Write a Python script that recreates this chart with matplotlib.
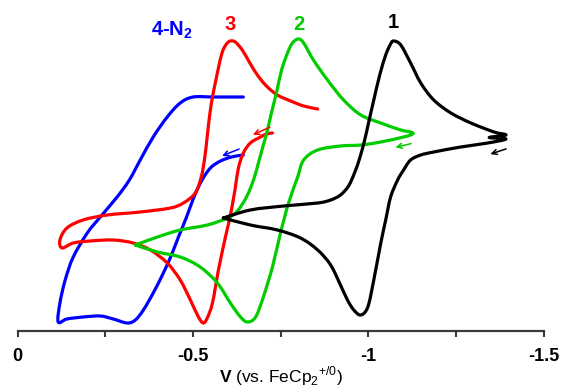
import matplotlib
matplotlib.use("Agg")
import matplotlib.pyplot as plt
from matplotlib.path import Path
from matplotlib.patches import PathPatch

plt.rcParams["font.family"] = ["Liberation Sans", "DejaVu Sans"]
plt.rcParams["mathtext.fontset"] = "custom"
plt.rcParams["mathtext.rm"] = "Liberation Sans"
plt.rcParams["mathtext.bf"] = "Liberation Sans:bold"

# potentials in V (vs. FeCp2+/0), currents in arbitrary units (no y scale shown)
e_1 = [-0.587, -0.664, -0.759, -0.856, -0.893, -0.921, -0.944, -0.961, -0.976, -0.990,
       -1.001, -1.016, -1.033, -1.050, -1.064, -1.073, -1.093, -1.121, -1.150, -1.187,
       -1.236, -1.293, -1.359, -1.393, -1.345, -1.393, -1.341, -1.264, -1.187, -1.150,
       -1.121, -1.101, -1.084, -1.064, -1.050, -1.036, -1.016, -0.999, -0.979, -0.959,
       -0.941, -0.921, -0.893, -0.856, -0.807, -0.741, -0.664, -0.587]
i_1 = [113, 121, 125, 128, 131, 136, 145, 158, 173, 191,
       208, 231, 256, 276, 287, 290, 286, 268, 248, 231,
       218, 208, 199, 196, 193.5, 192, 188, 184, 179, 176,
       171, 161, 151, 134, 111, 88, 51, 24, 16, 21,
       31, 46, 66, 81, 93, 101, 106, 113]

e_2 = [-0.336, -0.399, -0.464, -0.541, -0.599, -0.627, -0.653, -0.673, -0.687, -0.701,
       -0.713, -0.724, -0.739, -0.753, -0.770, -0.784, -0.801, -0.816, -0.844, -0.884,
       -0.930, -0.979, -1.036, -1.093, -1.121, -1.127, -1.101, -1.036, -0.979, -0.921,
       -0.856, -0.816, -0.799, -0.773, -0.750, -0.727, -0.701, -0.679, -0.656, -0.636,
       -0.607, -0.570, -0.521, -0.464, -0.399, -0.336]
i_2 = [86, 94, 101, 106, 113, 120, 134, 151, 168, 186,
       201, 218, 239, 261, 278, 288, 292, 288, 271, 251,
       231, 216, 208, 201, 199, 197, 194, 189, 186, 185,
       181, 171, 154, 128, 98, 64, 34, 14, 9, 14,
       28, 48, 64, 74, 79, 86]

e_3 = [-0.727, -0.710, -0.693, -0.664, -0.644, -0.630, -0.621, -0.610, -0.601, -0.593,
       -0.573, -0.556, -0.541, -0.530, -0.516, -0.493, -0.464, -0.427, -0.379, -0.330,
       -0.273, -0.207, -0.159, -0.127, -0.121, -0.141, -0.187, -0.256, -0.350, -0.436,
       -0.473, -0.507, -0.524, -0.533, -0.539, -0.544, -0.550, -0.556, -0.564, -0.573,
       -0.584, -0.596, -0.607, -0.621, -0.641, -0.661, -0.684, -0.710, -0.741, -0.779,
       -0.816, -0.856]
i_3 = [198, 197, 194, 188, 178, 163, 143, 121, 106, 94,
       61, 28, 13, 8, 14, 31, 51, 68, 81, 88,
       91, 90, 88, 83, 91, 103, 111, 116, 119, 123,
       128, 138, 154, 171, 188, 204, 221, 234, 248, 263,
       279, 287, 290, 289, 281, 269, 256, 245, 236, 230,
       225, 222]

e_4 = [-0.644, -0.610, -0.579, -0.553, -0.533, -0.516, -0.501, -0.481, -0.459, -0.439,
       -0.416, -0.387, -0.359, -0.336, -0.313, -0.273, -0.236, -0.187, -0.141, -0.116,
       -0.121, -0.136, -0.159, -0.199, -0.236, -0.284, -0.319, -0.350, -0.387, -0.427,
       -0.464, -0.501, -0.559, -0.644]
i_4 = [176, 174, 170, 164, 155, 144, 132, 113, 94, 76,
       58, 38, 21, 11, 8, 12, 15, 14, 12, 9,
       28, 51, 74, 98, 114, 134, 151, 171, 194, 214,
       228, 234, 234, 234]

labels = ["4-N$_\\mathbf{2}$", "3", "2", "1"]
colors = ["#0000ff", "#ff0000", "#00cc00", "#000000"]
label_pos = [(-0.441, 301), (-0.607, 306), (-0.801, 307), (-1.073, 308)]
# scan-direction arrows: (start E, start i, end E, end i)
arrows = [(-0.639, 183, -0.576, 174),
          (-0.727, 205, -0.664, 195),
          (-1.130, 188, -1.070, 183),
          (-1.401, 183, -1.341, 176)]


def smooth_path(xs, ys):
    # smoothed line through every point (Catmull-Rom as cubic Beziers)
    pts = list(zip(xs, ys))
    n = len(pts)
    verts = [pts[0]]
    codes = [Path.MOVETO]
    for k in range(n - 1):
        p0 = pts[max(k - 1, 0)]
        p1 = pts[k]
        p2 = pts[k + 1]
        p3 = pts[min(k + 2, n - 1)]
        c1 = (p1[0] + (p2[0] - p0[0]) / 6, p1[1] + (p2[1] - p0[1]) / 6)
        c2 = (p2[0] - (p3[0] - p1[0]) / 6, p2[1] - (p3[1] - p1[1]) / 6)
        verts += [c1, c2, p2]
        codes += [Path.CURVE4] * 3
    return Path(verts, codes)


fig = plt.figure(figsize=(5.63, 3.90), dpi=100)
ax = fig.add_axes([17.5 / 563, (390 - 331) / 390, 526 / 563, 331 / 390])

curves = [(e_4, i_4), (e_3, i_3), (e_2, i_2), (e_1, i_1)]
for (e, i), c in zip(curves, colors):
    ax.add_patch(PathPatch(smooth_path(e, i), fill=False, edgecolor=c, lw=2.3,
                           joinstyle="round", capstyle="round"))

for lab, (x, y), c in zip(labels, label_pos, colors):
    ax.text(x, y, lab, color=c, fontsize=14.5, fontweight="bold", ha="center", va="center")

for (x0, y0, x1, y1), c in zip(arrows, colors):
    ax.annotate("", xy=(x1, y1), xytext=(x0, y0),
                arrowprops=dict(arrowstyle="->", color=c, lw=1.1, mutation_scale=9))

ax.set_xlim(0, -1.5)
ax.set_ylim(0, 331)
for s in ["top", "right", "left"]:
    ax.spines[s].set_visible(False)
ax.spines["bottom"].set_color("#3a3a3a")
ax.spines["bottom"].set_linewidth(1.6)
ax.set_yticks([])
ax.set_xticks([0, -0.5, -1, -1.5])
ax.set_xticklabels(["0", "-0.5", "-1", "-1.5"], fontweight="bold", fontsize=13)
ax.set_xticks([-0.25, -0.75, -1.25], minor=True)
ax.tick_params(axis="x", which="both", direction="out", length=4, width=1.5,
               color="#3a3a3a", pad=8)
ax.set_xlabel("$\\mathbf{V}$ (vs. FeCp$_2$$^{+/0}$)", fontsize=12.5, labelpad=0)
ax.patch.set_alpha(0)

fig.savefig("out.png", dpi=100)
